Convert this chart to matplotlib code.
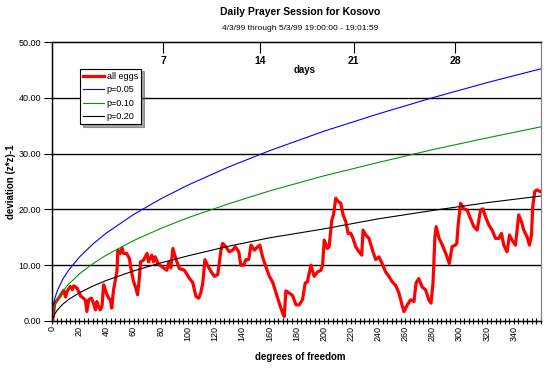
import numpy as np
import matplotlib
matplotlib.use('Agg')
from matplotlib import pyplot as plt
from matplotlib.ticker import FormatStrFormatter

plt.rcParams['font.family'] = ['Liberation Sans', 'DejaVu Sans']

## reference curves
dof_ref = [1, 2, 4, 8, 12, 20, 30, 40, 60, 80, 100, 130, 160, 200, 240, 280, 320, 360]
p05 = [2.84, 3.99, 5.49, 7.51, 9.03, 11.41, 13.77, 15.76, 19.08, 21.88, 24.34, 27.6, 30.5, 34.0, 37.1, 40.0, 42.7, 45.2]
p10 = [1.71, 2.61, 3.78, 5.36, 6.55, 8.41, 10.26, 11.81, 14.40, 16.58, 18.50, 21.0, 23.3, 26.0, 28.4, 30.7, 32.8, 34.8]
p20 = [0.64, 1.22, 1.99, 3.03, 3.81, 5.04, 6.25, 7.27, 8.97, 10.41, 11.67, 13.4, 14.9, 16.5, 18.3, 19.8, 21.2, 22.4]

## all eggs cumulative deviation
dof_eggs = [0, 1, 2, 4, 6, 8.6, 10, 11, 13.5, 15, 16, 18.5, 21, 23, 24.5, 25.7, 27, 29, 30.5, 32,
            33, 34.3, 35.5, 36.8, 38, 39.2, 40.5, 41.7, 43, 44, 45.3, 46.5, 47.8, 48.5, 50.2, 51.5,
            52.7, 55, 57, 58.3, 60, 61.7, 63, 64.2, 65.2, 67.4, 70, 71, 73.5, 74.8, 76, 78, 81, 84.5,
            86, 87.5, 89, 91.4, 93.8, 97.5, 101, 103.6, 106, 108, 109.5, 111, 112.6, 114.5, 117,
            119.5, 122, 124.4, 125.6, 128, 130.5, 133, 135, 137.5, 139, 141, 142.8, 144.8, 146.5,
            149, 151.4, 153, 155, 157.5, 160, 162.4, 165, 167.3, 169.8, 171, 172.2, 174.6, 177,
            179.6, 182, 184.4, 186.4, 188, 190.6, 193, 195.5, 198, 199.2, 200.4, 202.8, 204, 206,
            207.2, 208.9, 210.8, 212.6, 214.3, 216.3, 218, 220, 221.6, 223.6, 226, 228, 229, 231,
            233.4, 235.9, 238.3, 240.7, 243, 245.6, 248, 250.5, 253, 255.4, 258, 259.1, 261.6, 264,
            266.5, 268, 270, 272.5, 275, 277.4, 279, 280.5, 281.9, 282.8, 285, 287.4, 290.8, 292.5,
            294.5, 296.9, 298, 299, 300.8, 303.2, 305.6, 308, 310.6, 313, 315.5, 317.2, 319.1, 321.6,
            324, 326.5, 329, 330.9, 332.6, 335, 336.8, 338.7, 341.2, 342.4, 343.6, 345.6, 347.3,
            349.7, 351.5, 353, 353.9, 355.4, 357, 359.4]
val_eggs = [-1.0, 1.0, 3.2, 3.8, 4.5, 5.5, 4.3, 5.3, 6.2, 5.6, 6.3, 5.9, 4.5, 4.1, 3.8, 1.7, 3.8, 4.1, 3.2, 2.0,
            3.5, 2.6, 2.0, 2.6, 6.5, 5.6, 4.7, 4.1, 3.8, 2.3, 5.6, 7.1, 8.9, 12.7, 12.1, 13.1,
            12.1, 12.1, 11.2, 9.1, 7.1, 5.9, 4.7, 7.4, 10.6, 10.9, 12.1, 10.6, 11.8, 10.6, 11.5, 10.3, 9.7, 9.1,
            10.5, 9.5, 13.0, 11.0, 9.4, 9.1, 7.7, 6.9, 4.4, 4.1, 5.0, 6.8, 11.0, 10.0, 8.9,
            8.0, 8.3, 12.7, 13.9, 13.3, 12.4, 12.7, 13.3, 12.4, 10.0, 10.0, 11.0, 11.0, 13.6,
            12.7, 13.3, 13.6, 11.5, 9.7, 8.0, 7.0, 5.0, 3.2, 1.4, 0.8, 5.4, 5.0, 4.6,
            2.9, 2.9, 3.8, 6.8, 7.0, 10.0, 8.0, 8.8, 9.1, 10.0, 14.5, 13.0, 13.3, 18.1,
            19.0, 22.0, 21.4, 21.1, 19.0, 17.8, 15.7, 15.7, 14.8, 13.3, 12.4, 11.8, 16.3, 15.4,
            14.8, 12.7, 11.0, 11.5, 10.3, 8.8, 8.0, 7.0, 6.4, 5.0, 2.6, 1.7, 2.9, 3.8,
            3.5, 6.8, 7.6, 6.1, 5.6, 3.8, 3.2, 6.8, 15.1, 16.9, 14.8, 13.6, 11.5, 10.3,
            13.3, 13.6, 13.9, 17.2, 21.1, 20.1, 19.9, 18.4, 16.9, 16.3, 19.9, 20.1, 18.7, 17.2,
            16.3, 14.8, 14.8, 15.7, 13.6, 12.4, 15.4, 14.5, 13.6, 16.3, 19.0, 17.8, 16.3,
            15.1, 13.6, 15.4, 20.5, 23.2, 23.5, 23.2]

day_pos = [82, 153, 222, 297]
day_labels = ['7', '14', '21', '28']

fig = plt.figure(figsize=(5.46, 3.80), dpi=100)
ax = fig.add_axes([52/546, 1 - 321/380, 489/546, 279/380])

ax.plot(dof_eggs, val_eggs, color='#ff0000', lw=2.3, label='all eggs', zorder=3)
ax.plot(dof_ref, p05, color='#0000ff', lw=0.8, label='p=0.05', zorder=4)
ax.plot(dof_ref, p10, color='#009900', lw=0.8, label='p=0.10', zorder=4)
ax.plot(dof_ref, p20, color='black', lw=0.8, label='p=0.20', zorder=4)

ax.set_xlim(0, 360)
ax.set_ylim(0, 50)
ax.set_yticks([0, 10, 20, 30, 40, 50])
ax.yaxis.set_major_formatter(FormatStrFormatter('%.2f'))
ax.set_xticks(np.arange(0, 341, 20))
ax.set_xticks(np.arange(0, 361, 20/6), minor=True)
ax.tick_params(axis='x', which='both', direction='inout', length=5, width=0.8,
               labelsize=6.5, labelrotation=90, pad=1)
ax.tick_params(axis='y', direction='out', length=6, width=0.8, labelsize=6.5, pad=2)
for v in [10, 20, 30, 40]:
    ax.axhline(v, color='black', lw=1.0, zorder=1)
ax.spines['right'].set_color('#808080')
for s in ['left', 'bottom', 'top']:
    ax.spines[s].set_linewidth(1.0)

## days on top
top = ax.twiny()
top.set_xlim(ax.get_xlim())
top.set_xticks(day_pos)
top.set_xticklabels(day_labels)
top.tick_params(axis='x', direction='in', length=8, width=0.8, labelsize=7.5, pad=-17)
for t in top.get_xticklabels():
    t.set_fontweight('bold')
top.spines['right'].set_color('#808080')
ax.text(0.517, 0.9, 'days', transform=ax.transAxes, ha='center', va='center',
        fontsize=7, fontweight='bold')

leg = ax.legend(loc='upper left', bbox_to_anchor=(0.057, 0.905), fontsize=6.5,
                frameon=True, fancybox=False, shadow=True, edgecolor='black',
                handlelength=2.3, borderpad=0.35, labelspacing=0.5, handletextpad=0.3,
                borderaxespad=0)
leg.get_frame().set_linewidth(0.8)
leg.set_zorder(10)

fig.text(300/546, 1 - 12/380, 'Daily Prayer Session for Kosovo', ha='center', va='center',
         fontsize=7.5, fontweight='bold')
fig.text(300/546, 1 - 28/380, '4/3/99 through 5/3/99 19:00:00 - 19:01:59', ha='center',
         va='center', fontsize=6)
fig.text(300/546, 1 - 357/380, 'degrees of freedom', ha='center', va='center',
         fontsize=7, fontweight='bold')
fig.text(11/546, 1 - 182/380, 'deviation (z*z)-1', ha='center', va='center', rotation=90,
         fontsize=7, fontweight='bold')

fig.savefig('out.png', dpi=100)
